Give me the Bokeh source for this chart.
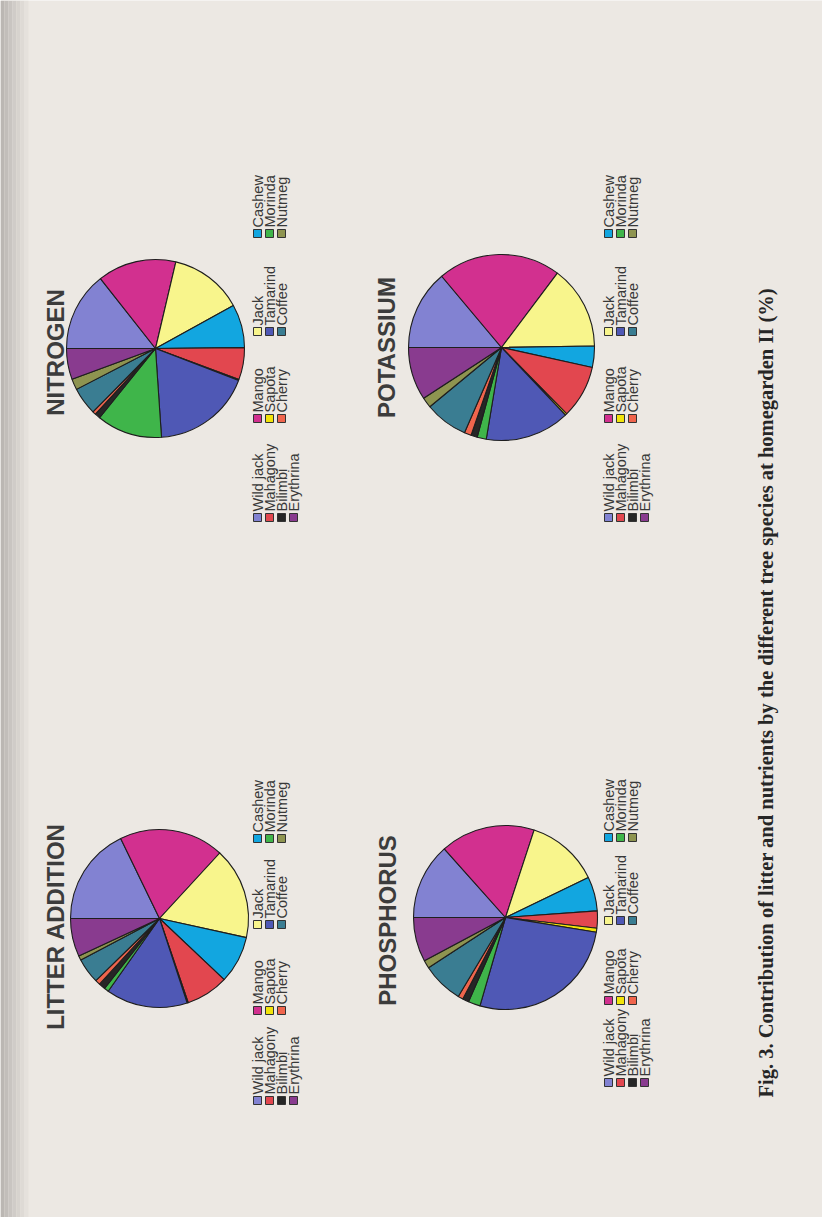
import numpy as np
from bokeh.plotting import figure
from bokeh.models import Range1d, ColumnDataSource
from bokeh.embed import file_html
from bokeh.resources import INLINE
from bokeh.core.properties import value

# ---------------- data ----------------
species = ["Wild jack", "Mango", "Jack", "Cashew",
           "Mahagony", "Sapota", "Tamarind", "Morinda",
           "Bilimbi", "Cherry", "Coffee", "Nutmeg",
           "Erythrina"]
colors = ["#8282d2", "#d2308f", "#f8f58c", "#12a6e0",
          "#e2474f", "#f2e40a", "#4f58b5", "#3fb54a",
          "#262626", "#f0654d", "#3a7d92", "#8e9450",
          "#893b8f"]

litter = [17.8, 19.0, 16.6, 8.6, 7.7, 0.2, 14.8, 0.8, 1.2, 0.9, 4.6, 0.8, 6.9]
nitrogen = [14.4, 14.3, 13.3, 7.9, 5.8, 0.2, 18.1, 11.9, 1.0, 0.6, 5.0, 2.0, 5.6]
phosphorus = [13.4, 16.6, 12.8, 6.0, 3.0, 0.7, 26.9, 2.1, 1.1, 0.9, 7.2, 1.4, 7.8]
potassium = [13.9, 21.4, 14.5, 3.7, 9.2, 0.3, 14.7, 1.6, 1.1, 1.2, 7.5, 1.8, 9.2]

titles = ["LITTER ADDITION", "NITROGEN", "PHOSPHORUS", "POTASSIUM"]
caption = "Fig. 3.  Contribution of litter and nutrients by the different tree species at  homegarden II (%)"

# ---------------- layout ----------------
W, H = 822, 1217
PAPER = "#ece8e3"

p = figure(width=W, height=H, x_range=Range1d(0, W), y_range=Range1d(0, H),
           output_backend="svg", toolbar_location=None, min_border=0)
p.axis.visible = False
p.grid.visible = False
p.outline_line_color = None
p.background_fill_color = PAPER
p.border_fill_color = PAPER

# darker scanned margin on the left
band_cols = ["#bbb7b3", "#c2beba", "#c9c5c1", "#d0ccc8", "#d7d3ce", "#dedad5", "#e5e1dc"]
bx = [2 + 4 * i for i in range(len(band_cols))]
p.rect(x=bx, y=[H / 2] * len(bx), width=4, height=H, fill_color=band_cols,
       line_color=None)


def sy(y):
    return H - y


def draw_pie(vals, cx, cy, r):
    frac = np.array(vals, dtype=float) / np.sum(vals)
    cum = np.concatenate([[0.0], np.cumsum(frac)])
    start = np.pi - 2 * np.pi * cum[1:]
    end = np.pi - 2 * np.pi * cum[:-1]
    n = len(vals)
    src = ColumnDataSource(dict(x=[cx] * n, y=[sy(cy)] * n, s=start, e=end, c=colors))
    p.wedge(x="x", y="y", radius=r, start_angle="s", end_angle="e",
            fill_color="c", line_color="#1e1e1e", line_width=1.1, source=src)


def draw_legend(row_x, item_y):
    xs, ys, cs, lx, ly, labels = [], [], [], [], [], []
    for i, name in enumerate(species):
        r, c = divmod(i, 4)
        xs.append(row_x[r])
        ys.append(sy(item_y[c]))
        cs.append(colors[i])
        lx.append(row_x[r])
        ly.append(sy(item_y[c] - 6))
        labels.append(name)
    p.rect(x=xs, y=ys, width=8, height=8, fill_color=cs, line_color="#333333",
           line_width=1)
    p.text(x=lx, y=ly, text=labels, angle=np.pi / 2, text_align="left",
           text_baseline="middle", text_font=value("Liberation Sans"),
           text_font_size="14.5px", text_color="#383838")


def draw_title(t, x, y):
    p.text(x=[x], y=[sy(y)], text=[t], angle=np.pi / 2, text_align="center",
           text_baseline="middle", text_font=value("Liberation Sans"),
           text_font_style="bold", text_font_size="24px", text_color="#3c3c3c")


# pies
draw_pie(litter, 159, 918, 89)
draw_pie(nitrogen, 155, 348, 89)
draw_pie(phosphorus, 505, 917, 92)
draw_pie(potassium, 501, 347, 93)

# titles
draw_title(titles[0], 55, 926)
draw_title(titles[1], 55, 352)
draw_title(titles[2], 387, 920)
draw_title(titles[3], 386, 347)

# legends
left_rows = [257, 269, 281, 293]
right_rows = [608, 620, 632, 644]
draw_legend(left_rows, [1100, 1010, 924, 838])
draw_legend(left_rows, [517, 418, 331, 233])
draw_legend(right_rows, [1082, 1000, 920, 837])
draw_legend(right_rows, [517, 418, 331, 233])

# caption
p.text(x=[765], y=[sy(1097)], text=[caption], angle=np.pi / 2, text_align="left",
       text_baseline="middle", text_font=value("Liberation Serif"),
       text_font_style="bold", text_font_size="20.5px", text_color="#262626")

open("out.html", "w").write(file_html(p, INLINE))
